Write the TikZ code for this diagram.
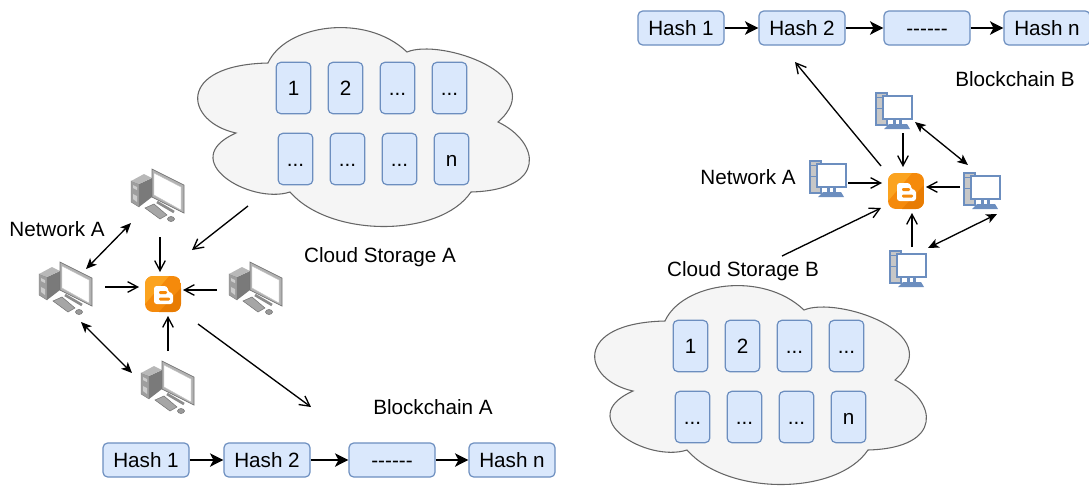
\documentclass[tikz,border=0pt]{standalone}
\usepackage{fontspec}
\setmainfont{Liberation Sans}
\usetikzlibrary{arrows.meta}
\definecolor{tilefill}{HTML}{DAE8FC}
\definecolor{tileline}{HTML}{6C8EBF}
\definecolor{cloudfill}{HTML}{F5F5F5}
\definecolor{cloudline}{HTML}{666666}
\definecolor{blogmid}{HTML}{F58A0B}
\definecolor{bloglight}{HTML}{FBA31F}
\definecolor{blogdark}{HTML}{E87C03}
\tikzset{
    every node/.style={font=\fontsize{15.5}{18}\selectfont},
    tile/.style={draw=tileline,fill=tilefill,line width=0.9pt,rounded corners=3.5pt,minimum width=26pt,minimum height=38.5pt,inner sep=0pt,text height=10.5pt,text depth=0pt},
    hashbox/.style={draw=tileline,fill=tilefill,line width=0.9pt,rounded corners=3.5pt,minimum width=64.5pt,minimum height=25.5pt,inner sep=0pt,text height=10.5pt,text depth=0pt},
    spot/.style={inner sep=0pt,outer sep=0pt,minimum size=#1},
    arr/.style={line width=1pt,-{Straight Barb[length=7.5pt,width=8pt,line width=1pt]}},
    dblarr/.style={line width=1pt,{Stealth[length=8pt,width=7pt,inset=2pt]}-{Stealth[length=8pt,width=7pt,inset=2pt]}},
    chainarr/.style={line width=1.2pt,-{Stealth[length=10pt,width=10pt,inset=2.5pt]}},
    pcgray/.pic={
        % tower
        \fill[black!38,draw=black!50,line width=0.3pt] (-26,-14)--(-18,-11)--(-18,12)--(-26,7)--cycle;
        \fill[black!52] (-18,-11)--(-5,-17)--(-5,2)--(-18,12)--cycle;
        \fill[black!28] (-26,-14)--(-13,-21)--(-5,-17)--(-18,-11)--cycle;
        \fill[white!80!black] (-24,-10)--(-20,-8)--(-20,-5)--(-24,-7)--cycle;
        \fill[white!80!black] (-24,-1)--(-20,1)--(-20,7)--(-24,4)--cycle;
        % monitor
        \fill[black!30,draw=black!55,line width=0.5pt] (-5,-26)--(27,-10)--(27,18)--(-5,2)--cycle;
        \fill[white,draw=black!25,line width=0.3pt] (-3,-22)--(24,-8)--(24,15)--(-3,0)--cycle;
        % stand, keys, mouse
        \draw[black!45,line width=2pt] (0,7)--(17,17);
        \fill[black!35,draw=black!55,line width=0.4pt] (-12,13)--(-3,9)--(10,20)--(3,24)--cycle;
        \fill[black!40,draw=black!55,line width=0.4pt] (14,24) ellipse (3.5 and 2.5);
    },
    pcblue/.pic={
        \draw[tileline,fill=black!22,line width=1.1pt] (-18,-18) rectangle (-7,14);
        \draw[tileline,line width=0.7pt] (-18,-14)--(-8,-14);
        \draw[tileline,line width=0.7pt] (-18,-3)--(-8,-3);
        \draw[tileline,fill=white,line width=1.1pt] (-11,-15) rectangle (18,8);
        \fill[tileline] (-1,8) rectangle (8,13);
        \fill[white] (2,9) rectangle (5,13);
        \fill[tileline] (-10,18)--(-5,13)--(13,13)--(16,18)--cycle;
    },
    blogicon/.pic={
        \begin{scope}
        \clip[rounded corners=6pt] (-18,-18) rectangle (18,18);
        \fill[blogmid] (-18,-18) rectangle (18,18);
        \fill[bloglight] (-18,-18)--(6,-18)--(-18,10)--cycle;
        \fill[blogdark] (18,-6)--(18,18)--(-4,18)--cycle;
        \end{scope}
        \fill[white,rounded corners=2pt] (-9,-8)--(4,-8)--(6,-1)--(10,-1)--(10,10)--(-9,10)--cycle;
        \fill[blogmid,rounded corners=0.8pt] (-4,-3) rectangle (4,0);
        \fill[blogmid,rounded corners=0.8pt] (-4,3.5) rectangle (7,6.5);
    },
    cloudstore/.pic={
        \draw[draw=cloudline,fill=cloudfill,line width=0.8pt]
            (268,63) .. controls (285,25) and (365,12) .. (407,52)
            .. controls (440,38) and (552,75) .. (498,122)
            .. controls (540,142) and (548,190) .. (471,192)
            .. controls (440,238) and (330,238) .. (290,192)
            .. controls (250,205) and (175,160) .. (236,133)
            .. controls (185,122) and (175,65) .. (268,63) -- cycle;
        \node[tile] (t1) at (293.5,88) {1};
        \node[tile] (t2) at (345.5,88) {2};
        \node[tile] (t3) at (397.5,88) {...};
        \node[tile] (t4) at (449.5,88) {...};
        \node[tile] (t5) at (295.5,159) {...};
        \node[tile] (t6) at (347.5,159) {...};
        \node[tile] (t7) at (399.5,159) {...};
        \node[tile] (t8) at (451.5,159) {n};
    }
}
\begin{document}
\begin{tikzpicture}[x=0.75pt,y=-0.75pt]
    \useasboundingbox (0,0) rectangle (1089,486);

    % left part
    \pic (cloudA) at (0,0) {cloudstore};
    \node (cloudlabelA) at (380,257) {Cloud Storage A};
    \node (netlabelA) at (57,229) {Network A};
    \node (chainlabelA) at (433,407) {Blockchain A};

    \node[spot=40.5pt] (pcAtop) at (157,195) {};
    \node[spot=40.5pt] (pcAleft) at (65,288) {};
    \node[spot=40.5pt] (pcAright) at (255,288) {};
    \node[spot=40.5pt] (pcAbot) at (167,387) {};
    \node[spot=27pt] (blogA) at (163,294) {};
    \pic at (pcAtop) {pcgray};
    \pic at (pcAleft) {pcgray};
    \pic at (pcAright) {pcgray};
    \pic at (pcAbot) {pcgray};
    \pic at (blogA) {blogicon};

    \draw[arr] ([shift={(3,15)}]pcAtop.south)--([shift={(-3,-4)}]blogA.north);
    \draw[arr] ([shift={(13,-1)}]pcAleft.east)--([shift={(-6,-7)}]blogA.west);
    \draw[arr] ([shift={(-11,2)}]pcAright.west)--([shift={(2,-4)}]blogA.east);
    \draw[arr] ([shift={(1,-9)}]pcAbot.north)--([shift={(5,4)}]blogA.south);
    \draw[dblarr] ([shift={(-6,8)}]pcAleft.north east)--([shift={(1,1)}]pcAtop.south west);
    \draw[dblarr] ([shift={(-11,7)}]pcAleft.south east)--([shift={(-8,13)}]pcAbot.north west);

    \coordinate (cloudtailA) at (248,206);
    \coordinate (chainheadA) at (311,407);
    \draw[arr] (cloudtailA)--([shift={(11,-26)}]blogA.north east);
    \draw[arr] ([shift={(17,12)}]blogA.south east)--(chainheadA);

    \node[hashbox] (hashA1) at (146,460) {Hash 1};
    \node[hashbox] (hashA2) at (267,460) {Hash 2};
    \node[hashbox] (hashA3) at (392,460) {-{}-{}-{}-{}-{}-};
    \node[hashbox] (hashA4) at (512,460) {Hash n};
    \draw[chainarr] (hashA1)--(hashA2);
    \draw[chainarr] (hashA2)--(hashA3);
    \draw[chainarr] (hashA3)--(hashA4);

    % right part
    \pic (cloudB) at (397,258) {cloudstore};
    \node (cloudlabelB) at (743,271) {Cloud Storage B};
    \node (netlabelB) at (748,177) {Network A};
    \node (chainlabelB) at (1015,79) {Blockchain B};

    \node[spot=27pt] (pcBtop) at (894,111) {};
    \node[spot=27pt] (pcBleft) at (828,179) {};
    \node[spot=27pt] (pcBright) at (982,191) {};
    \node[spot=27pt] (pcBbot) at (908,269) {};
    \node[spot=27pt] (blogB) at (906,191) {};
    \pic at (pcBtop) {pcblue};
    \pic at (pcBleft) {pcblue};
    \pic at (pcBright) {pcblue};
    \pic at (pcBbot) {pcblue};
    \pic at (blogB) {blogicon};

    \draw[arr] ([shift={(9,4)}]pcBtop.south)--([shift={(-3,-6)}]blogB.north);
    \draw[arr] ([shift={(2,4)}]pcBleft.east)--([shift={(-6,-8)}]blogB.west);
    \draw[arr] ([shift={(-4,-4)}]pcBright.west)--([shift={(2,-4)}]blogB.east);
    \draw[arr] ([shift={(4,-4)}]pcBbot.north)--([shift={(6,4)}]blogB.south);
    \draw[dblarr] ([shift={(3,-7)}]pcBtop.south east)--([shift={(4,-8)}]pcBright.north west);
    \draw[dblarr] ([shift={(2,-3)}]pcBbot.north east)--([shift={(-3,5)}]pcBright.south east);

    \coordinate (chainheadB) at (795,62);
    \coordinate (cloudtailB) at (782,256);
    \draw[arr] ([shift={(-7,-7)}]blogB.north west)--(chainheadB);
    \draw[arr] (cloudtailB)--([shift={(-7,-1)}]blogB.south west);

    \node[hashbox] (hashB1) at (681,28) {Hash 1};
    \node[hashbox] (hashB2) at (802,28) {Hash 2};
    \node[hashbox] (hashB3) at (927,28) {-{}-{}-{}-{}-{}-};
    \node[hashbox] (hashB4) at (1047,28) {Hash n};
    \draw[chainarr] (hashB1)--(hashB2);
    \draw[chainarr] (hashB2)--(hashB3);
    \draw[chainarr] (hashB3)--(hashB4);
\end{tikzpicture}
\end{document}
